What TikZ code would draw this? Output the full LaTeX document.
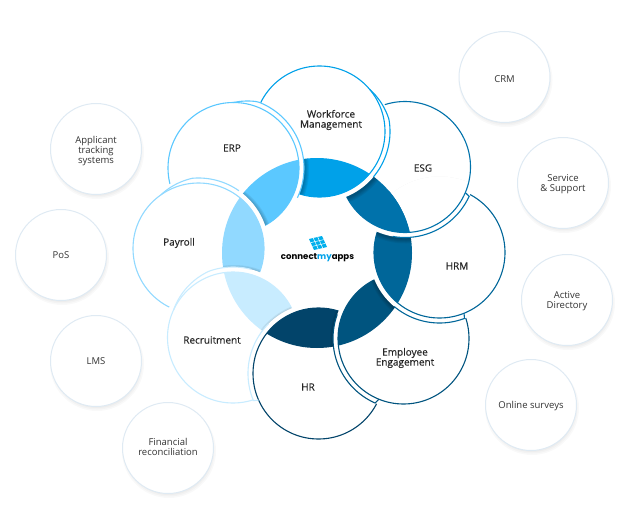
\documentclass[tikz,border=0pt]{standalone}
\usepackage{fontspec}
\setmainfont{Open Sans}
\newfontfamily\petalfont[FakeBold=0.3]{Open Sans}
\newfontfamily\logofont{Poppins}
\usetikzlibrary{calc}
\definecolor{wfblue}{HTML}{00A1E9}
\definecolor{esgblue}{HTML}{0072AB}
\definecolor{hrmblue}{HTML}{006699}
\definecolor{empblue}{HTML}{00547F}
\definecolor{hrblue}{HTML}{02446A}
\definecolor{recblue}{HTML}{C8ECFF}
\definecolor{payblue}{HTML}{91D9FF}
\definecolor{erpblue}{HTML}{5BC8FF}
\definecolor{rimgrey}{HTML}{DFEAF3}
\tikzset{
  petallabel/.style={font=\petalfont\fontsize{10}{10}\selectfont, text=black!85, align=center},
  satellite/.style={circle, draw=rimgrey, fill=white, line width=1pt, minimum size=91pt, inner sep=0pt},
  satlabel/.style={font=\fontsize{9.5}{10}\selectfont, text=black!80, align=center},
}
% soft shadow: centre, radius
\newcommand{\softshadow}[2]{
  \foreach \s in {0,1.5,3}
    \fill[black, opacity=.025] ($(#1)+(1,3)$) circle ({#2+\s});
}
% centre, next petal, colour, shell colour, shell start, ramp, shell end
\newcommand{\petal}[7]{
  \softshadow{#1}{63.5}
  \begin{scope}
    \clip (ring) circle (95);
    \clip (#2) circle (65.5);
    \foreach \s in {70.5,71.5,72.5,73.5,74.5}
      \fill[black, opacity=.06] ($(#1)+(1,2)$) circle (\s);
  \end{scope}
  \fill[white] (#1) circle (70.5);
  \begin{scope}
    \clip (#1) circle (65.5);
    \fill[#3] (ring) circle (95);
  \end{scope}
  \draw[#3, line width=1.1pt] (#1) circle (65.5);
  \draw[#4, line width=1.1pt, shift={(#1)}] plot[domain=#5:#7, samples=50]
    (\x:{65.5+5*min(1,(\x-(#5))/#6)});
}
\begin{document}
\begin{tikzpicture}[x=1pt, y=-1pt]
  \useasboundingbox (0,0) rectangle (628,524);
  \coordinate (ring) at (317,253);
  \coordinate (wf) at (319.5,131.5);
  \coordinate (esg) at (405,167);
  \coordinate (hrm) at (439.5,252.5);
  \coordinate (emp) at (403.5,338.5);
  \coordinate (hr) at (318.5,373.5);
  \coordinate (rec) at (233,337.5);
  \coordinate (pay) at (198.5,248.5);
  \coordinate (erp) at (233.5,168);

  % outer circles
  \foreach \n/\px/\py/\dy/\t in {crm/504.5/77/2/CRM, service/563/183/1.5/{Service\\\& Support},
      active/567/300/1.5/{Active\\Directory}, online/531/405/1/Online surveys,
      financial/168/448/-1.5/{Financial\\reconciliation}, lms/96/361/0/LMS, pos/61/255/0/PoS,
      applicant/96/149/2.5/{Applicant\\tracking\\systems}} {
    \softshadow{\px,\py}{44}
    \node[satellite] (\n) at (\px,\py) {};
    \node[satlabel] (\n text) at ($(\n)+(0,\dy)$) {\t};
  }

  % petals, each one over the next clockwise
  \petal{esg}{hrm}{esgblue}{esgblue}{23}{1}{100}
  \petal{wf}{esg}{wfblue}{wfblue}{-40}{30}{40}
  \petal{erp}{wf}{erpblue}{erpblue}{270}{20}{385}
  \petal{pay}{erp}{payblue}{payblue}{235}{30}{305}
  \petal{rec}{pay}{recblue}{recblue}{205}{45}{285}
  \petal{hr}{rec}{hrblue}{recblue}{156}{1}{225}
  \petal{emp}{hr}{empblue}{empblue}{112}{1}{200}
  \petal{hrm}{emp}{hrmblue}{hrmblue}{68}{1}{130}
  % esg again, it lies over hrm
  \begin{scope}
    \clip (hrm) circle (76);
    \petal{esg}{hrm}{esgblue}{esgblue}{23}{1}{100}
  \end{scope}
  \begin{scope}
    \clip (hrm) circle (80);
    \clip (esg) circle (65.5);
    \fill[esgblue] (ring) circle (95);
  \end{scope}

  \node[petallabel] (wflabel) at (331,120) {Workforce\\Management};
  \node[petallabel] (esglabel) at (423,168) {ESG};
  \node[petallabel] (hrmlabel) at (457,266) {HRM};
  \node[petallabel] (emplabel) at (405,358) {Employee\\Engagement};
  \node[petallabel] (hrlabel) at (308,387) {HR};
  \node[petallabel] (reclabel) at (212,340) {Recruitment};
  \node[petallabel] (paylabel) at (179,243) {Payroll};
  \node[petallabel] (erplabel) at (232,148) {ERP};

  % logo
  \coordinate (la) at (309,239);
  \coordinate (lb) at (322,236);
  \coordinate (lc) at (327,247);
  \coordinate (ld) at (314,250);
  \fill[wfblue!85!cyan] (la) -- (lb) -- (lc) -- (ld) -- cycle;
  \foreach \f in {.33,.67} {
    \draw[white, line width=.5pt] ($(la)!\f!(lb)$) -- ($(ld)!\f!(lc)$);
    \draw[white, line width=.5pt] ($(la)!\f!(ld)$) -- ($(lb)!\f!(lc)$);
  }
  \node[font=\logofont\bfseries\fontsize{8.6}{10}\selectfont, text=black, inner sep=0pt] (logotext) at (317.5,258)
    {connect\textcolor{wfblue}{my}apps};
\end{tikzpicture}
\end{document}
